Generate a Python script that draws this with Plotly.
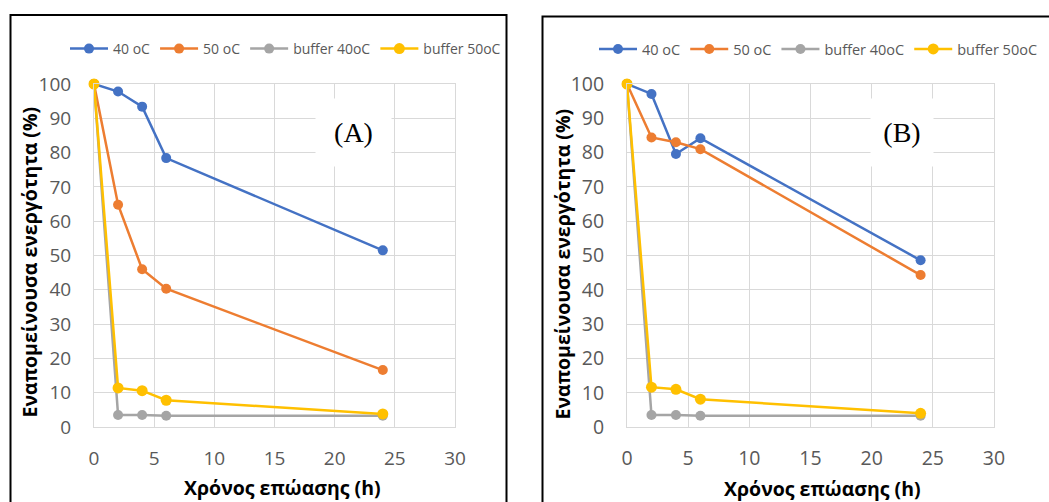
import plotly.graph_objects as go

# Incubation time (h)
hours = [0, 2, 4, 6, 24]

# Panel (A): remaining activity (%)
a_40 = [100, 97.8, 93.4, 78.4, 51.5]
a_50 = [100, 64.8, 46.0, 40.3, 16.6]
a_buf40 = [100, 3.5, 3.5, 3.3, 3.3]
a_buf50 = [100, 11.4, 10.6, 7.8, 3.8]

# Panel (B): remaining activity (%)
b_40 = [100, 97.1, 79.6, 84.2, 48.6]
b_50 = [100, 84.4, 83.0, 81.0, 44.3]
b_buf40 = [100, 3.5, 3.5, 3.3, 3.3]
b_buf50 = [100, 11.6, 11.0, 8.1, 4.0]

series_names = ["40 oC", "50 oC", "buffer 40oC", "buffer 50oC"]
series_colors = ["#4472C4", "#ED7D31", "#A5A5A5", "#FFC000"]
marker_sizes = [10, 10, 10, 11]

x_ticks = [0, 5, 10, 15, 20, 25, 30]
y_ticks = [0, 10, 20, 30, 40, 50, 60, 70, 80, 90, 100]

x_title = "Χρόνος επώασης (h)"
y_title = "Εναπομείνουσα ενεργότητα (%)"
panel_labels = ["(A)", "(B)"]

W, H = 1049, 502


def px(x):
    return x / W


def py(y):
    return 1 - y / H


fig = go.Figure()

panels = [
    (a_40, a_50, a_buf40, a_buf50),
    (b_40, b_50, b_buf40, b_buf50),
]
for p, values in enumerate(panels):
    suffix = "" if p == 0 else "2"
    for name, col, ms, ys in zip(series_names, series_colors, marker_sizes, values):
        fig.add_trace(go.Scatter(
            x=hours, y=ys, name=name, mode="lines+markers",
            line=dict(color=col, width=2.5),
            marker=dict(color=col, size=ms),
            xaxis="x" + suffix, yaxis="y" + suffix,
            legend="legend" + suffix,
            cliponaxis=False,
        ))

grid = "#D9D9D9"


def axis_style(font_size):
    return dict(
        showgrid=True, gridcolor=grid, gridwidth=1,
        showline=True, linecolor=grid, linewidth=1, mirror=True,
        zeroline=False, ticks="", automargin=False,
        tickfont=dict(family="Open Sans", size=font_size, color="#595959"),
    )


plot_left = [94, 627]
plot_right = [455, 994]
plot_top, plot_bottom = 84, 427

fig.update_layout(
    width=W, height=H,
    margin=dict(l=0, r=0, t=0, b=0, autoexpand=False),
    paper_bgcolor="white", plot_bgcolor="white",
    showlegend=True,
    xaxis=dict(domain=[px(plot_left[0]), px(plot_right[0])], range=[0, 30],
               tickvals=x_ticks, ticklabelstandoff=14, anchor="y", **axis_style(19)),
    yaxis=dict(domain=[py(plot_bottom), py(plot_top)], range=[0, 100],
               tickvals=y_ticks, ticklabelstandoff=18, anchor="x", **axis_style(19)),
    xaxis2=dict(domain=[px(plot_left[1]), px(plot_right[1])], range=[0, 30],
                tickvals=x_ticks, ticklabelstandoff=14, anchor="y2", **axis_style(19.5)),
    yaxis2=dict(domain=[py(plot_bottom), py(plot_top)], range=[0, 100],
                tickvals=y_ticks, ticklabelstandoff=18, anchor="x2", **axis_style(19.5)),
)

for key, lx, fs, iw in (("legend", 65, 14, 38), ("legend2", 594, 14.5, 38)):
    fig.layout[key] = dict(
        orientation="h", x=px(lx), xanchor="left", y=py(49), yanchor="middle",
        font=dict(family="Open Sans", size=fs, color="#595959"),
        itemwidth=iw, bgcolor="rgba(0,0,0,0)", tracegroupgap=0,
    )

title_font = dict(family="Open Sans", size=19.5, color="black")
annotations = []
for cx, cy in ((282.5, 487.5), (822.5, 488)):
    annotations.append(dict(
        text="<b>" + x_title + "</b>", x=px(cx), y=py(cy), xref="paper", yref="paper",
        xanchor="center", yanchor="middle", showarrow=False, font=title_font,
    ))
for cx, cy in ((29, 262.5), (561.5, 264)):
    annotations.append(dict(
        text="<b>" + y_title + "</b>", x=px(cx), y=py(cy), xref="paper", yref="paper",
        xanchor="center", yanchor="middle", showarrow=False, font=title_font,
        textangle=-90,
    ))
for label, cx, bw in ((panel_labels[0], 353.5, 73), (panel_labels[1], 902, 60)):
    annotations.append(dict(
        text=label, x=px(cx), y=py(132.5), xref="paper", yref="paper",
        xanchor="center", yanchor="middle", showarrow=False,
        font=dict(family="Liberation Serif", size=28, color="black"),
        bgcolor="white", width=bw, height=65,
    ))
fig.update_layout(annotations=annotations)

# Black frames around each chart panel
for x0, x1, y0 in ((10.5, 506.5, 15), (542.5, 1060, 16.5)):
    fig.add_shape(type="rect", xref="paper", yref="paper",
                  x0=px(x0), x1=px(x1), y0=py(y0), y1=py(515),
                  line=dict(color="black", width=2), fillcolor="rgba(0,0,0,0)",
                  layer="above")

fig.write_html("out.html")
